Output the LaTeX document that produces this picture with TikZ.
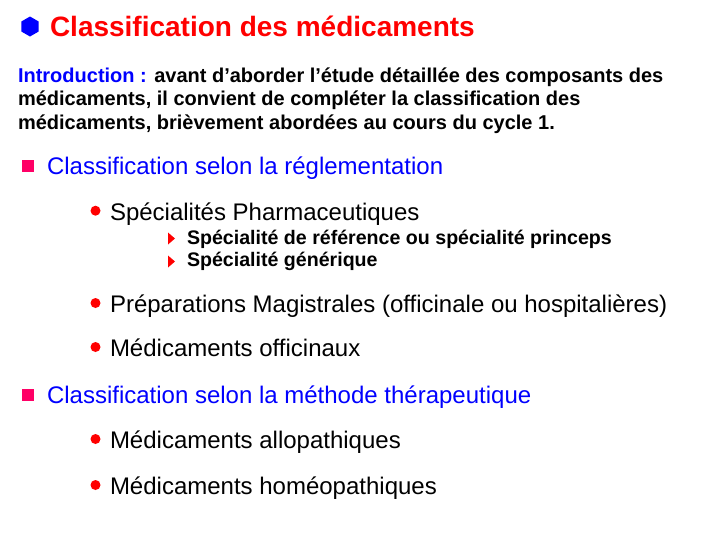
\documentclass[tikz,border=0pt]{standalone}
\usepackage{fontspec}
\setmainfont{Liberation Sans}
\usetikzlibrary{shapes.geometric}

\definecolor{titlered}{RGB}{255,0,0}
\definecolor{slideblue}{RGB}{0,0,255}
\definecolor{squarepink}{RGB}{255,0,102}

\tikzset{
  txt/.style={anchor=base west,inner sep=0pt,outer sep=0pt},
  titletext/.style={txt,text=titlered,font=\fontsize{28}{28}\selectfont\bfseries},
  introtext/.style={txt,font=\fontsize{20}{20}\selectfont\bfseries},
  levelone/.style={txt,text=slideblue,font=\fontsize{24}{24}\selectfont},
  leveltwo/.style={txt,font=\fontsize{24}{24}\selectfont},
  levelthree/.style={txt,font=\fontsize{19.6}{19.6}\selectfont\bfseries},
  hexbullet/.style={regular polygon,regular polygon sides=6,shape border rotate=30,
    minimum size=20pt,inner sep=0pt,fill=slideblue},
  squarebullet/.style={rectangle,minimum size=12pt,inner sep=0pt,fill=squarepink},
  dotbullet/.style={circle,minimum size=10pt,inner sep=0pt,fill=titlered}
}

\begin{document}
\begin{tikzpicture}[x=1pt,y=-1pt]
  \useasboundingbox[fill=white] (0,0) rectangle (703,539);

  % Title
  \node[hexbullet] (hex) at (30,26.5) {};
  \node[titletext] (title) at (50,36) {Classification des médicaments};

  % Introduction
  \node[introtext] (intro1) at (18,82) {\textcolor{slideblue}{Introduction :} avant d’aborder l’étude détaillée des composants des};
  \node[introtext] (intro2) at (18,105.5) {médicaments, il convient de compléter la classification des};
  \node[introtext] (intro3) at (18,129) {médicaments, brièvement abordées au cours du cycle 1.};

  % Classification selon la reglementation
  \node[squarebullet] (sq1) at (28,166) {};
  \node[levelone] (regl) at (47,174) {Classification selon la réglementation};

  \node[dotbullet] (dot1) at (95.5,210.7) {};
  \node[leveltwo] (spec) at (110,220) {Spécialités Pharmaceutiques};
  \fill[titlered] (168,232.5) -- (175,238.5) -- (168,244.5) -- cycle;
  \node[levelthree] (princeps) at (187,244) {Spécialité de référence ou spécialité princeps};
  \fill[titlered] (168,255.5) -- (175,261.5) -- (168,267.5) -- cycle;
  \node[levelthree] (generique) at (187,266.5) {Spécialité générique};

  \node[dotbullet] (dot2) at (95.5,303) {};
  \node[leveltwo] (magis) at (110,312.5) {Préparations Magistrales (officinale ou hospitalières)};

  \node[dotbullet] (dot3) at (95.5,347) {};
  \node[leveltwo] (offic) at (110,356.5) {Médicaments officinaux};

  % Classification selon la methode therapeutique
  \node[squarebullet] (sq2) at (28,395) {};
  \node[levelone] (methode) at (47,403) {Classification selon la méthode thérapeutique};

  \node[dotbullet] (dot4) at (95.5,439) {};
  \node[leveltwo] (allo) at (110,448.5) {Médicaments allopathiques};

  \node[dotbullet] (dot5) at (95.5,485) {};
  \node[leveltwo] (homeo) at (110,494.5) {Médicaments homéopathiques};
\end{tikzpicture}
\end{document}
